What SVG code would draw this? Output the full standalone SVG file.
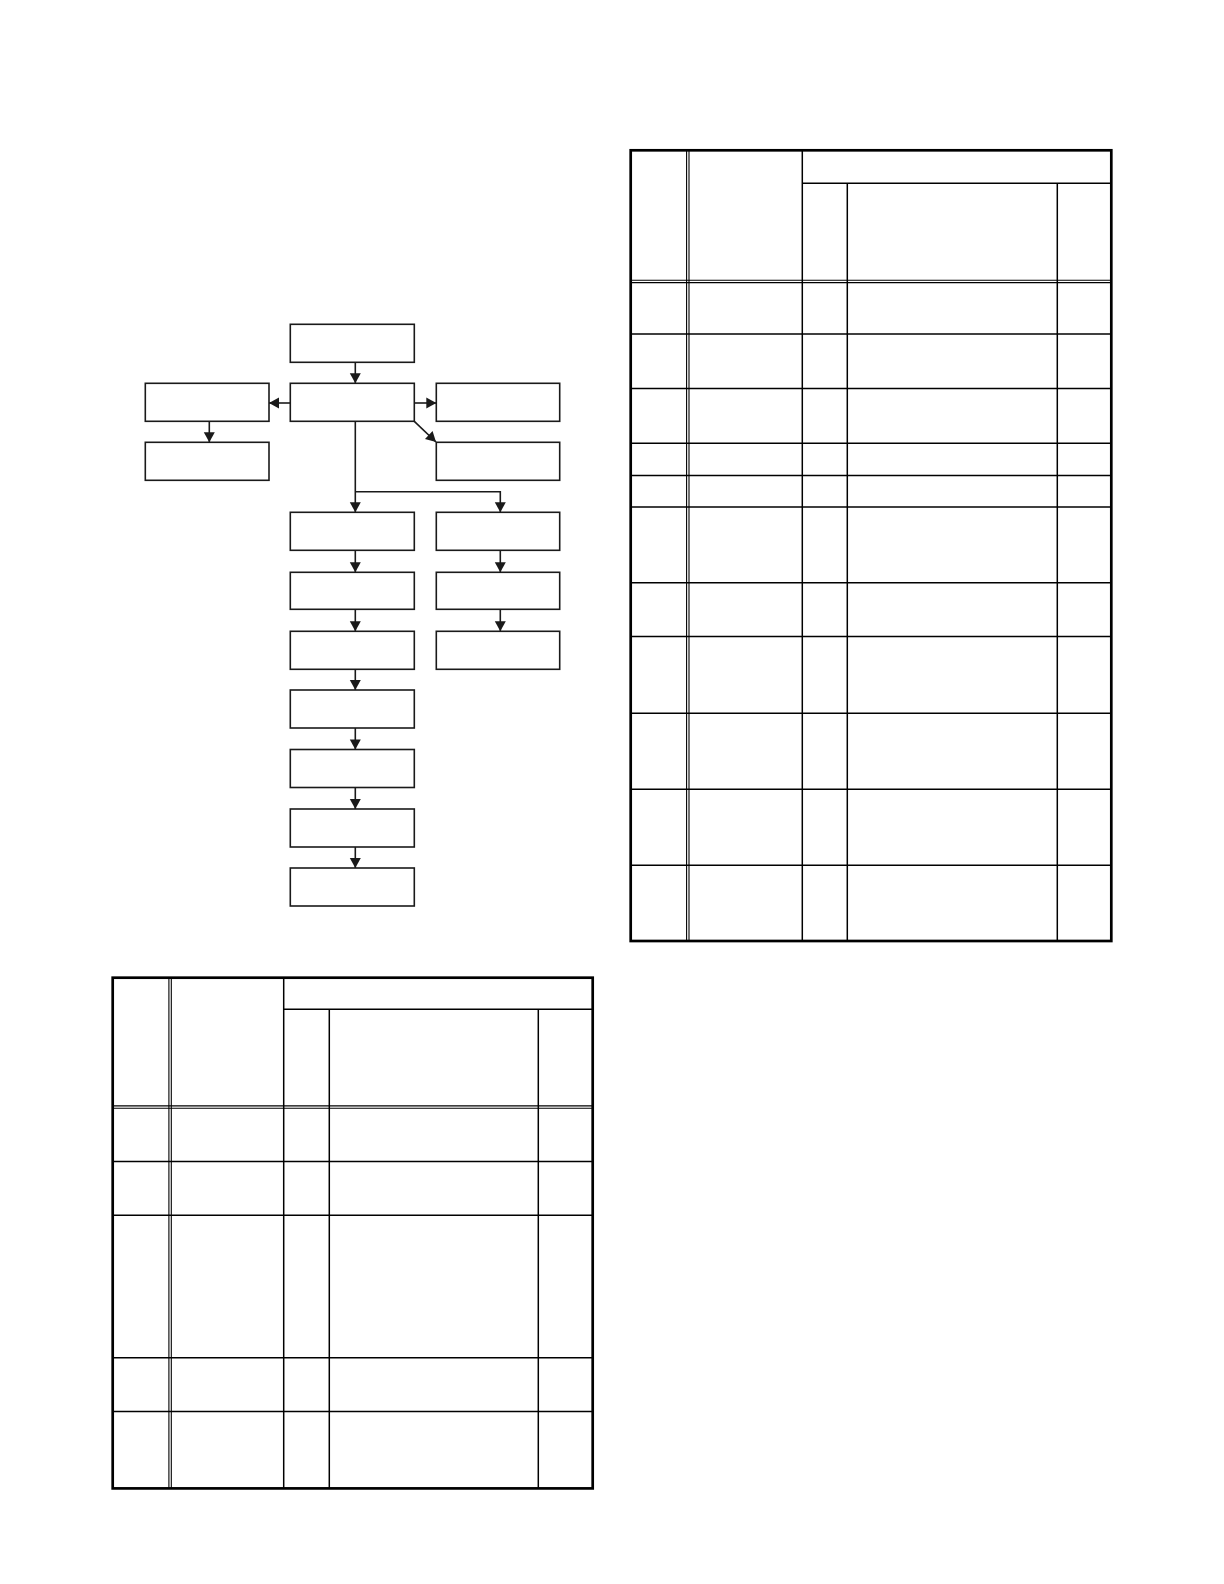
<svg xmlns="http://www.w3.org/2000/svg" width="1224" height="1584" viewBox="0 0 1224 1584">
<style>
.box{fill:#fff;stroke:#1a1a1a;stroke-width:1.6}
.con{fill:none;stroke:#1a1a1a;stroke-width:1.6}
.outer{fill:none;stroke:#000;stroke-width:2.7}
.ln{stroke:#000;stroke-width:1.5;fill:none}
.dl{stroke:#000;stroke-width:1.1;fill:none}
</style>
<defs>
<marker id="ah" markerUnits="userSpaceOnUse" markerWidth="14" markerHeight="14" viewBox="0 0 14 14" refX="11" refY="7" orient="auto">
<path d="M1,1.5 L11,7 L1,12.5 Z" fill="#1a1a1a"/>
</marker>
</defs>
<rect width="1224" height="1584" fill="#fff"/>
<g id="nodes">
<g id="n1"><rect class="box" x="290.3" y="324.3" width="124" height="38"/></g>
<g id="n2"><rect class="box" x="290.3" y="383.3" width="124" height="38"/></g>
<g id="n3"><rect class="box" x="145.3" y="383.3" width="123.7" height="38"/></g>
<g id="n4"><rect class="box" x="145.3" y="442.3" width="123.7" height="38"/></g>
<g id="n5"><rect class="box" x="436.3" y="383.3" width="123.4" height="38"/></g>
<g id="n6"><rect class="box" x="436.3" y="442.3" width="123.4" height="38"/></g>
<g id="n7"><rect class="box" x="290.3" y="512.3" width="124" height="38"/></g>
<g id="n8"><rect class="box" x="290.3" y="572.3" width="124" height="37"/></g>
<g id="n9"><rect class="box" x="290.3" y="631.3" width="124" height="38"/></g>
<g id="n10"><rect class="box" x="290.3" y="690" width="124" height="38"/></g>
<g id="n11"><rect class="box" x="290.3" y="749.5" width="124" height="38"/></g>
<g id="n12"><rect class="box" x="290.3" y="809" width="124" height="38"/></g>
<g id="n13"><rect class="box" x="290.3" y="868" width="124" height="38"/></g>
<g id="n14"><rect class="box" x="436.3" y="512.3" width="123.4" height="38"/></g>
<g id="n15"><rect class="box" x="436.3" y="572.3" width="123.4" height="37"/></g>
<g id="n16"><rect class="box" x="436.3" y="631.3" width="123.4" height="38"/></g>
</g>
<g id="connectors">
<line class="con" x1="355.3" y1="362.3" x2="355.3" y2="383.3" marker-end="url(#ah)"/>
<line class="con" x1="290.3" y1="403" x2="269" y2="403" marker-end="url(#ah)"/>
<line class="con" x1="414.3" y1="403" x2="436.3" y2="403" marker-end="url(#ah)"/>
<line class="con" x1="414.3" y1="421.3" x2="436" y2="442" marker-end="url(#ah)"/>
<line class="con" x1="209.3" y1="421.3" x2="209.3" y2="442.3" marker-end="url(#ah)"/>
<line class="con" x1="355.3" y1="421.3" x2="355.3" y2="512.3" marker-end="url(#ah)"/>
<path class="con" d="M355.3,491.7 H500.3 V512.3" marker-end="url(#ah)"/>
<line class="con" x1="355.3" y1="550.3" x2="355.3" y2="572.3" marker-end="url(#ah)"/>
<line class="con" x1="355.3" y1="609.3" x2="355.3" y2="631.3" marker-end="url(#ah)"/>
<line class="con" x1="355.3" y1="669.3" x2="355.3" y2="690" marker-end="url(#ah)"/>
<line class="con" x1="355.3" y1="728" x2="355.3" y2="749.5" marker-end="url(#ah)"/>
<line class="con" x1="355.3" y1="787.5" x2="355.3" y2="809" marker-end="url(#ah)"/>
<line class="con" x1="355.3" y1="847" x2="355.3" y2="868" marker-end="url(#ah)"/>
<line class="con" x1="500.3" y1="550.3" x2="500.3" y2="572.3" marker-end="url(#ah)"/>
<line class="con" x1="500.3" y1="609.3" x2="500.3" y2="631.3" marker-end="url(#ah)"/>
</g>
<g id="table-right">
<line class="dl" x1="686.6" y1="150.3" x2="686.6" y2="941"/>
<line class="dl" x1="689" y1="150.3" x2="689" y2="941"/>
<line class="ln" x1="802.3" y1="150.3" x2="802.3" y2="941"/>
<line class="ln" x1="802.3" y1="183.3" x2="1111.3" y2="183.3"/>
<line class="ln" x1="847.3" y1="183.3" x2="847.3" y2="941"/>
<line class="ln" x1="1057.3" y1="183.3" x2="1057.3" y2="941"/>
<line class="dl" x1="630.7" y1="280.2" x2="1111.3" y2="280.2"/>
<line class="dl" x1="630.7" y1="282.6" x2="1111.3" y2="282.6"/>
<line class="ln" x1="630.7" y1="334" x2="1111.3" y2="334"/>
<line class="ln" x1="630.7" y1="388.5" x2="1111.3" y2="388.5"/>
<line class="ln" x1="630.7" y1="443.2" x2="1111.3" y2="443.2"/>
<line class="ln" x1="630.7" y1="475.6" x2="1111.3" y2="475.6"/>
<line class="ln" x1="630.7" y1="506.9" x2="1111.3" y2="506.9"/>
<line class="ln" x1="630.7" y1="582.8" x2="1111.3" y2="582.8"/>
<line class="ln" x1="630.7" y1="636.4" x2="1111.3" y2="636.4"/>
<line class="ln" x1="630.7" y1="713.3" x2="1111.3" y2="713.3"/>
<line class="ln" x1="630.7" y1="789.2" x2="1111.3" y2="789.2"/>
<line class="ln" x1="630.7" y1="865.3" x2="1111.3" y2="865.3"/>
<rect class="outer" x="630.7" y="150.3" width="480.6" height="790.7"/>
</g>
<g id="table-left">
<line class="dl" x1="168.9" y1="977.7" x2="168.9" y2="1488.4"/>
<line class="dl" x1="171.3" y1="977.7" x2="171.3" y2="1488.4"/>
<line class="ln" x1="283.7" y1="977.7" x2="283.7" y2="1488.4"/>
<line class="ln" x1="283.7" y1="1009.3" x2="592.7" y2="1009.3"/>
<line class="ln" x1="329.3" y1="1009.3" x2="329.3" y2="1488.4"/>
<line class="ln" x1="538.3" y1="1009.3" x2="538.3" y2="1488.4"/>
<line class="dl" x1="112.7" y1="1105.9" x2="592.7" y2="1105.9"/>
<line class="dl" x1="112.7" y1="1108.3" x2="592.7" y2="1108.3"/>
<line class="ln" x1="112.7" y1="1161.6" x2="592.7" y2="1161.6"/>
<line class="ln" x1="112.7" y1="1215.2" x2="592.7" y2="1215.2"/>
<line class="ln" x1="112.7" y1="1357.8" x2="592.7" y2="1357.8"/>
<line class="ln" x1="112.7" y1="1411.5" x2="592.7" y2="1411.5"/>
<rect class="outer" x="112.7" y="977.7" width="480" height="510.7"/>
</g>
</svg>
